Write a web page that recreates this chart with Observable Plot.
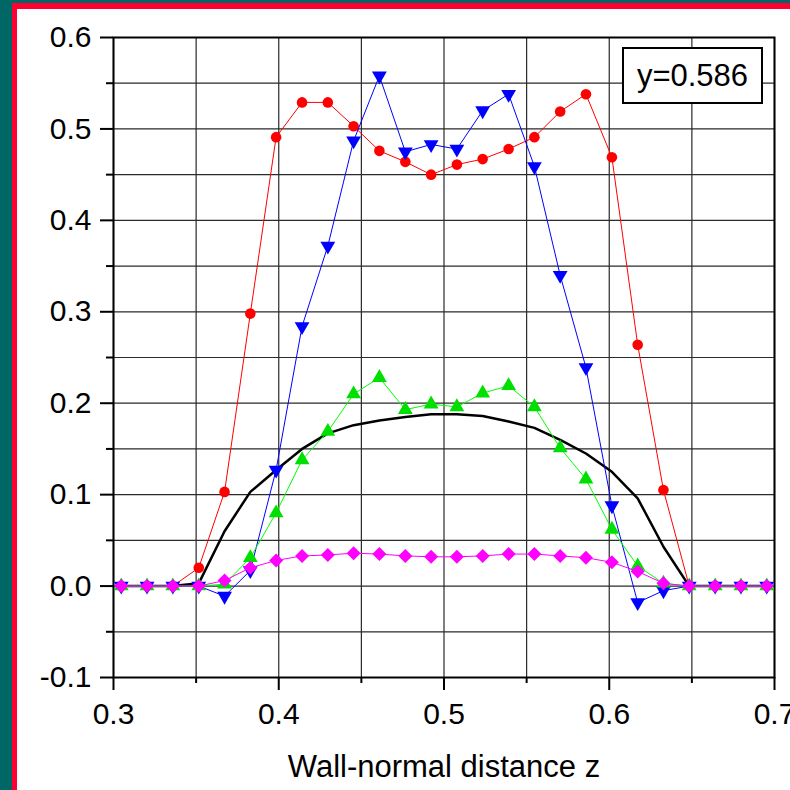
<!DOCTYPE html>
<html>
<head>
<meta charset="utf-8">
<script src="https://cdn.jsdelivr.net/npm/d3@7"></script>
<script src="https://cdn.jsdelivr.net/npm/@observablehq/plot@0.6"></script>
<style>
  html, body { margin: 0; padding: 0; background: #006666; }
  #page { position: relative; width: 790px; height: 790px; background: #006666; overflow: hidden; font-family: "Liberation Sans", Arial, sans-serif; }
  #paper { position: absolute; left: 12px; top: 3px; right: 0; bottom: 0; background: #ffffff; border-left: 5px solid #ff0033; border-top: 6px solid #ff0033; }
  #chart { position: absolute; left: 0; top: 0; }
  #legend { position: absolute; left: 622px; top: 47px; width: 141px; height: 57px; box-sizing: border-box; border: 2px solid #000; background: #fff; display: flex; align-items: center; justify-content: center; font-size: 31px; color: #000; }
</style>
</head>
<body>
<div id="page">
  <div id="paper"></div>
  <div id="chart"></div>
  <div id="legend">y=0.586</div>
</div>
<script>
// Wall-normal positions z
const z = [0.3047, 0.3203, 0.3359, 0.3516, 0.3672, 0.3828, 0.3984, 0.4141, 0.4297, 0.4453, 0.4609, 0.4766, 0.4922,
           0.5078, 0.5234, 0.5391, 0.5547, 0.5703, 0.5859, 0.6016, 0.6172, 0.6328, 0.6484, 0.6641, 0.6797, 0.6953];

// Series values
const redSeries   = [0, 0, 0, 0.020, 0.103, 0.298, 0.491, 0.529, 0.529, 0.503, 0.476, 0.464, 0.450,
                     0.461, 0.467, 0.478, 0.491, 0.519, 0.538, 0.469, 0.264, 0.105, 0, 0, 0, 0];
const blueSeries  = [0, 0, 0, 0, -0.011, 0.017, 0.127, 0.284, 0.372, 0.487, 0.558, 0.475, 0.483,
                     0.478, 0.520, 0.538, 0.459, 0.340, 0.239, 0.088, -0.018, -0.005, 0, 0, 0, 0];
const greenSeries = [0, 0, 0, 0, 0.002, 0.031, 0.080, 0.138, 0.169, 0.210, 0.228, 0.193, 0.199,
                     0.196, 0.211, 0.219, 0.196, 0.151, 0.117, 0.062, 0.022, 0.003, 0, 0, 0, 0];
const pinkSeries  = [0, 0, 0, 0, 0.006, 0.020, 0.028, 0.033, 0.034, 0.036, 0.035, 0.033, 0.032,
                     0.032, 0.033, 0.035, 0.035, 0.033, 0.031, 0.026, 0.016, 0.003, 0, 0, 0, 0];
const blackSeries = [0, 0, 0, 0.003, 0.060, 0.103, 0.127, 0.150, 0.167, 0.176, 0.181, 0.185, 0.188,
                     0.188, 0.186, 0.180, 0.173, 0.160, 0.145, 0.125, 0.096, 0.043, 0, 0, 0, 0];

// Ticks
const xTicks = [0.3, 0.4, 0.5, 0.6, 0.7];
const xMinor = [0.35, 0.45, 0.55, 0.65];
const yTicks = [-0.1, 0.0, 0.1, 0.2, 0.3, 0.4, 0.5, 0.6];
const yMinor = [-0.05, 0.05, 0.15, 0.25, 0.35, 0.45, 0.55];
const xLabel = "Wall-normal distance z";

const fmt = d => d.toFixed(1);

const chart = Plot.plot({
  width: 790,
  height: 790,
  marginTop: 37,
  marginLeft: 113,
  marginRight: 16,
  marginBottom: 113,
  style: { background: "transparent", fontFamily: "'Liberation Sans', Arial, sans-serif", color: "#000" },
  x: { domain: [0.3, 0.7] },
  y: { domain: [-0.1, 0.6] },
  marks: [
    Plot.gridX([...xTicks, ...xMinor], { stroke: "#2a2a2a", strokeOpacity: 1, strokeWidth: 1.2 }),
    Plot.gridY([...yTicks, ...yMinor], { stroke: "#2a2a2a", strokeOpacity: 1, strokeWidth: 1.2 }),
    Plot.axisY(yTicks, { tickSize: 13, tickPadding: 9, fontSize: 30, tickFormat: fmt, stroke: "#000", strokeWidth: 2, label: null }),
    Plot.axisY(yMinor, { tickSize: 7, tickFormat: () => "", stroke: "#000", strokeWidth: 2, label: null }),
    Plot.axisX(xTicks, { tickSize: 13, tickPadding: 12, fontSize: 30, tickFormat: fmt, stroke: "#000", strokeWidth: 2, label: null }),
    Plot.axisX(xMinor, { tickSize: 6, tickFormat: () => "", stroke: "#000", strokeWidth: 2, label: null }),
    Plot.frame({ stroke: "#000", strokeWidth: 2 }),
    Plot.line(blackSeries, { x: z, y: blackSeries, stroke: "#000", strokeWidth: 2.5 }),
    Plot.line(redSeries, { x: z, y: redSeries, stroke: "#ff0000", strokeWidth: 1 }),
    Plot.dot(redSeries, { x: z, y: redSeries, r: 5.3, fill: "#ff0000" }),
    Plot.line(blueSeries, { x: z, y: blueSeries, stroke: "#0000ff", strokeWidth: 1 }),
    Plot.dot(blueSeries, { x: z, y: blueSeries, symbol: "triangle", rotate: 180, r: 5.5, fill: "#0000ff" }),
    Plot.line(greenSeries, { x: z, y: greenSeries, stroke: "#00ff00", strokeWidth: 1 }),
    Plot.dot(greenSeries, { x: z, y: greenSeries, symbol: "triangle", r: 5.5, fill: "#00e000" }),
    Plot.line(pinkSeries, { x: z, y: pinkSeries, stroke: "#ff00ff", strokeWidth: 1 }),
    Plot.dot(pinkSeries, { x: z, y: pinkSeries, symbol: "diamond2", r: 6.3, fill: "#ff00ff" }),
    Plot.text([xLabel], { frameAnchor: "bottom", dy: 90, text: d => d, fontSize: 31, lineAnchor: "middle", fill: "#000" })
  ]
});
document.getElementById("chart").appendChild(chart);
</script>
</body>
</html>
